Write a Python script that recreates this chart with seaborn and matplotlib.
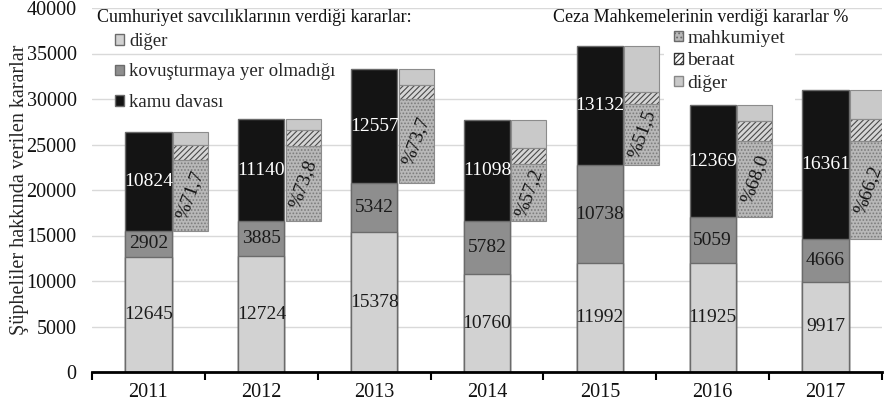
import numpy as np
import pandas as pd
import matplotlib
matplotlib.use("Agg")
import matplotlib.pyplot as plt
import seaborn as sns
from matplotlib.patches import Patch, Rectangle

# yillar ve savcilik kararlari
years = ["2011", "2012", "2013", "2014", "2015", "2016", "2017"]
diger = [12645, 12724, 15378, 10760, 11992, 11925, 9917]
kovusturmaya = [2902, 3885, 5342, 5782, 10738, 5059, 4666]
kamu_davasi = [10824, 11140, 12557, 11098, 13132, 12369, 16361]

# ceza mahkemelerinin kararlari (%), beraat picture'dan tahmin
mahkumiyet_pct = [71.7, 73.8, 73.7, 57.2, 51.5, 68.0, 66.2]
beraat_pct = [15.0, 15.9, 12.5, 15.3, 10.0, 17.8, 14.4]

sns.set_theme(style="whitegrid")
serif = ['Liberation Serif', 'DejaVu Serif']
plt.rcParams['font.family'] = serif
plt.rcParams['hatch.linewidth'] = 0.8

df = pd.DataFrame({"yil": years, "diger": diger, "kov": kovusturmaya, "kamu": kamu_davasi})
df["alt"] = df["diger"] + df["kov"]
df["toplam"] = df["alt"] + df["kamu"]

fig = plt.figure(figsize=(8.84, 4.13), dpi=100)
ax = fig.add_axes([92/884, 41/413, 790/884, 364/413])

edge = "#6b6b6b"
w = 0.41
# stacked bars drawn as overlapping cumulative bars
sns.barplot(data=df, x="yil", y="toplam", color="#141414", width=w, edgecolor=edge,
            linewidth=1, saturation=1, errorbar=None, ax=ax)
sns.barplot(data=df, x="yil", y="alt", color="#8e8e8e", width=w, edgecolor=edge,
            linewidth=1, saturation=1, errorbar=None, ax=ax)
sns.barplot(data=df, x="yil", y="diger", color="#d2d2d2", width=w, edgecolor=edge,
            linewidth=1, saturation=1, errorbar=None, ax=ax)

# right bars: court decisions as share of kamu davasi
pos = np.arange(len(years)) + 0.372
rw = 0.31
kamu = df["kamu"].to_numpy()
base = df["alt"].to_numpy()
mh = kamu * np.array(mahkumiyet_pct) / 100
br = kamu * np.array(beraat_pct) / 100
dg = kamu - mh - br
ax.bar(pos, mh, rw, bottom=base, color="#b8b8b8", edgecolor="#7c7c7c", hatch=".....", linewidth=0)
ax.bar(pos, br, rw, bottom=base + mh, color="#d6d6d6", edgecolor="#4a4a4a", hatch="//////", linewidth=0)
ax.bar(pos, dg, rw, bottom=base + mh + br, color="#c9c9c9", linewidth=0)
for b, h in [(base, mh), (base + mh, br), (base + mh + br, dg)]:
    ax.bar(pos, h, rw, bottom=b, fill=False, edgecolor="#8c8c8c", linewidth=0.8)

# value labels
for i in range(len(years)):
    ax.text(i, diger[i] / 2, str(diger[i]), ha='center', va='center', fontsize=14, color='#1a1a1a')
    ax.text(i, diger[i] + kovusturmaya[i] / 2, str(kovusturmaya[i]), ha='center', va='center',
            fontsize=14, color='#1a1a1a')
    ax.text(i, base[i] + kamu[i] / 2, str(kamu_davasi[i]), ha='center', va='center',
            fontsize=14, color='white')
    lbl = ("%" + f"{mahkumiyet_pct[i]:.1f}").replace('.', ',')
    ax.text(pos[i], base[i] + mh[i] / 2, lbl, ha='center', va='center', fontsize=14,
            color='#151515', rotation=70)

ax.set_ylim(0, 40000)
ax.set_xlim(-0.5, 6.5)
ax.set_yticks(range(0, 40001, 5000))
ax.set_xlabel("")
ax.set_ylabel("Şüpheliler hakkında verilen kararlar", fontsize=14.5)
ax.yaxis.set_label_coords(-0.08, 0.5)
ax.yaxis.grid(True, color='#d9d9d9', linewidth=1)
ax.xaxis.grid(False)
for s in ['left', 'top', 'right']:
    ax.spines[s].set_visible(False)
ax.spines['bottom'].set_color('black')
ax.spines['bottom'].set_linewidth(2)
ax.tick_params(axis='y', labelsize=14.5, length=0, pad=11, labelcolor='#111111')
ax.tick_params(axis='x', which='major', labelsize=14.5, length=0, pad=8, labelcolor='#111111')
ax.set_xticks(np.arange(-0.5, 7, 1), minor=True)
ax.tick_params(axis='x', which='minor', length=6, width=1.5, color='black', direction='out', bottom=True)

# white box behind lower part of first legend (hides grid line like the original)
ax.add_patch(Rectangle((115/884, 1 - 112/413), 285/884, 50/413, transform=fig.transFigure,
                       facecolor='white', edgecolor='none', zorder=0.8))

fig.text(97/884, 1 - 18/413, "Cumhuriyet savcılıklarının verdiği kararlar:", fontsize=13,
         va='center', ha='left', color='#111111')
handles1 = [Patch(facecolor='#d2d2d2', edgecolor=edge, label='diğer'),
            Patch(facecolor='#8e8e8e', edgecolor=edge, label='kovuşturmaya yer olmadığı'),
            Patch(facecolor='#141414', edgecolor=edge, label='kamu davası')]
leg1 = ax.legend(handles=handles1, loc='upper left', bbox_to_anchor=(115/884, 1 - 33/413),
                 bbox_transform=fig.transFigure, frameon=False,
                 prop={'family': serif, 'size': 13.5},
                 handlelength=0.5, handleheight=0.5, handletextpad=0.25,
                 labelspacing=0.72, borderpad=0, borderaxespad=0)
ax.add_artist(leg1)

fig.text(553/884, 1 - 18/413, "Ceza Mahkemelerinin verdiği kararlar %", fontsize=13,
         va='center', ha='left', color='#111111')
handles2 = [Patch(facecolor='#b8b8b8', edgecolor='#6a6a6a', hatch='....', label='mahkumiyet'),
            Patch(facecolor='white', edgecolor='#333333', hatch='//////', label='beraat'),
            Patch(facecolor='#c9c9c9', edgecolor='#888888', label='diğer')]
leg2 = ax.legend(handles=handles2, loc='upper left', bbox_to_anchor=(670/884, 1 - 26/413),
                 bbox_transform=fig.transFigure, frameon=True, facecolor='white',
                 edgecolor='none', framealpha=1, prop={'family': serif, 'size': 14},
                 handlelength=0.45, handleheight=0.45, handletextpad=0.25, labelspacing=0.28,
                 borderpad=0.2, borderaxespad=0)
leg2.get_frame().set_boxstyle('square', pad=0.3)

fig.savefig("out.png", dpi=100)
